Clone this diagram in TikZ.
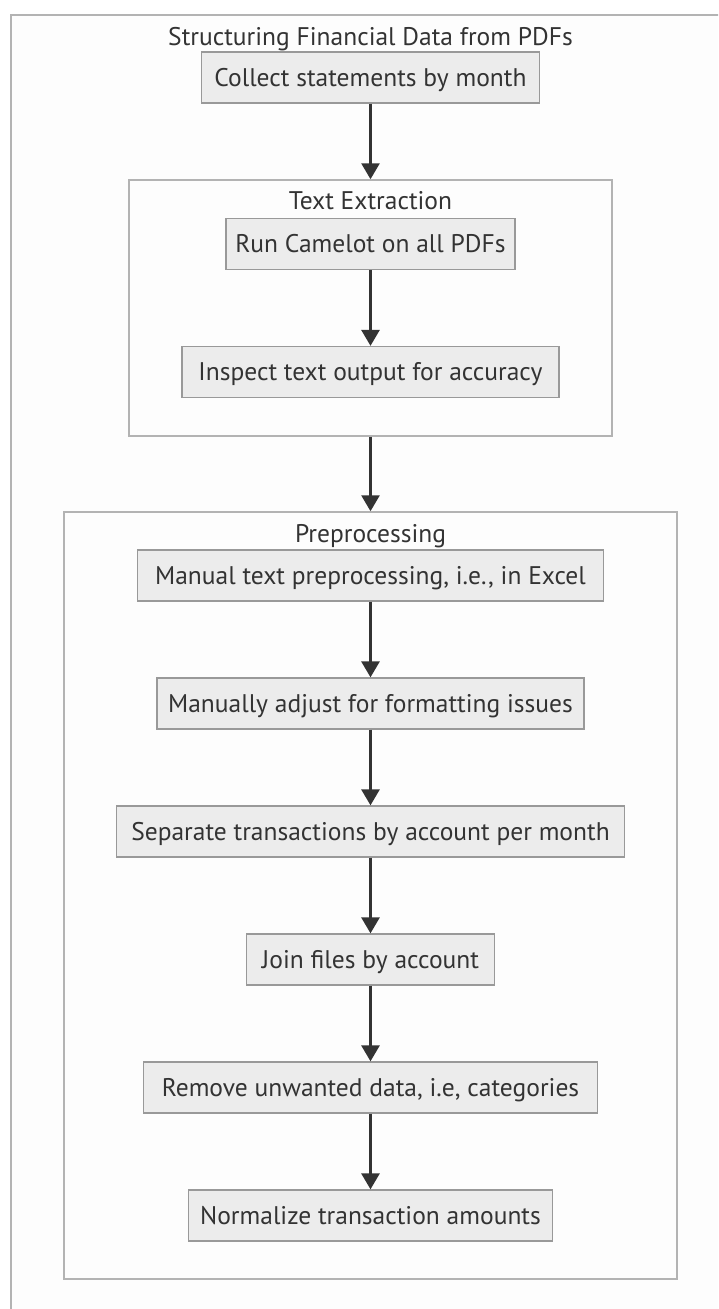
\documentclass[tikz,border=0pt]{standalone}
\usepackage{fontspec}
\usetikzlibrary{arrows.meta}
\newfontfamily\diafont{PT Sans}
\definecolor{nodefill}{HTML}{ECECEC}
\definecolor{nodeborder}{HTML}{999999}
\definecolor{clusborder}{HTML}{B3B3B3}
\definecolor{textc}{HTML}{333333}
\definecolor{arrowc}{HTML}{333333}
\definecolor{bgc}{HTML}{FDFDFD}
\tikzset{
  box/.style={draw=nodeborder, fill=nodefill, line width=1.3pt, minimum height=51pt, inner sep=0pt, text=textc, text height=17.5pt, text depth=0pt, font=\diafont\fontsize{25.5}{30}\selectfont},
  clus/.style={draw=clusborder, fill=bgc, line width=1.5pt, inner sep=0pt},
  lbl/.style={text=textc, text height=17.5pt, text depth=0pt, font=\diafont\fontsize{25.5}{30}\selectfont, inner sep=0pt},
  arr/.style={draw=arrowc, line width=2.8pt, -{Triangle[length=16pt,width=18pt]}}
}
\begin{document}
\begin{tikzpicture}[x=1pt,y=1pt]
\useasboundingbox (0,0) rectangle (718,-1309);
\clip (0,0) rectangle (718,-1309);
\fill[white] (0,0) rectangle (718,-1309);
\node[clus, minimum width=740, minimum height=1340, anchor=north west] (outer) at (10,-14) {};
\node[lbl] (title) at (370.5,-37) {Structuring Financial Data from PDFs};
\node[box, minimum width=338] (collect) at (370.5,-77.5) {Collect statements by month};
% Text Extraction cluster
\node[clus, minimum width=483, minimum height=256] (te) at (370.5,-308) {};
\node[lbl] (telbl) at (370.5,-201) {Text Extraction};
\node[box, minimum width=289] (run) at (370.5,-244) {Run Camelot on all PDFs};
\node[box, minimum width=377] (inspect) at (370.5,-372) {Inspect text output for accuracy};
% Preprocessing cluster
\node[clus, minimum width=613, minimum height=767] (pre) at (370.5,-895.5) {};
\node[lbl] (prelbl) at (370.5,-534) {Preprocessing};
\node[box, minimum width=466] (manual) at (370.5,-575.5) {Manual text preprocessing, i.e., in Excel};
\node[box, minimum width=427] (adjust) at (370.5,-703.5) {Manually adjust for formatting issues};
\node[box, minimum width=508] (separate) at (370.5,-831.5) {Separate transactions by account per month};
\node[box, minimum width=248] (join) at (370.5,-959.5) {Join files by account};
\node[box, minimum width=454] (remove) at (370.5,-1087.5) {Remove unwanted data, i.e, categories};
\node[box, minimum width=364] (normalize) at (370.5,-1215.5) {Normalize transaction amounts};
% connectors
\draw[arr] (collect.south) -- (te.north);
\draw[arr] (run.south) -- (inspect.north);
\draw[arr] (te.south) -- (pre.north);
\draw[arr] (manual.south) -- (adjust.north);
\draw[arr] (adjust.south) -- (separate.north);
\draw[arr] (separate.south) -- (join.north);
\draw[arr] (join.south) -- (remove.north);
\draw[arr] (remove.south) -- (normalize.north);
\end{tikzpicture}
\end{document}
